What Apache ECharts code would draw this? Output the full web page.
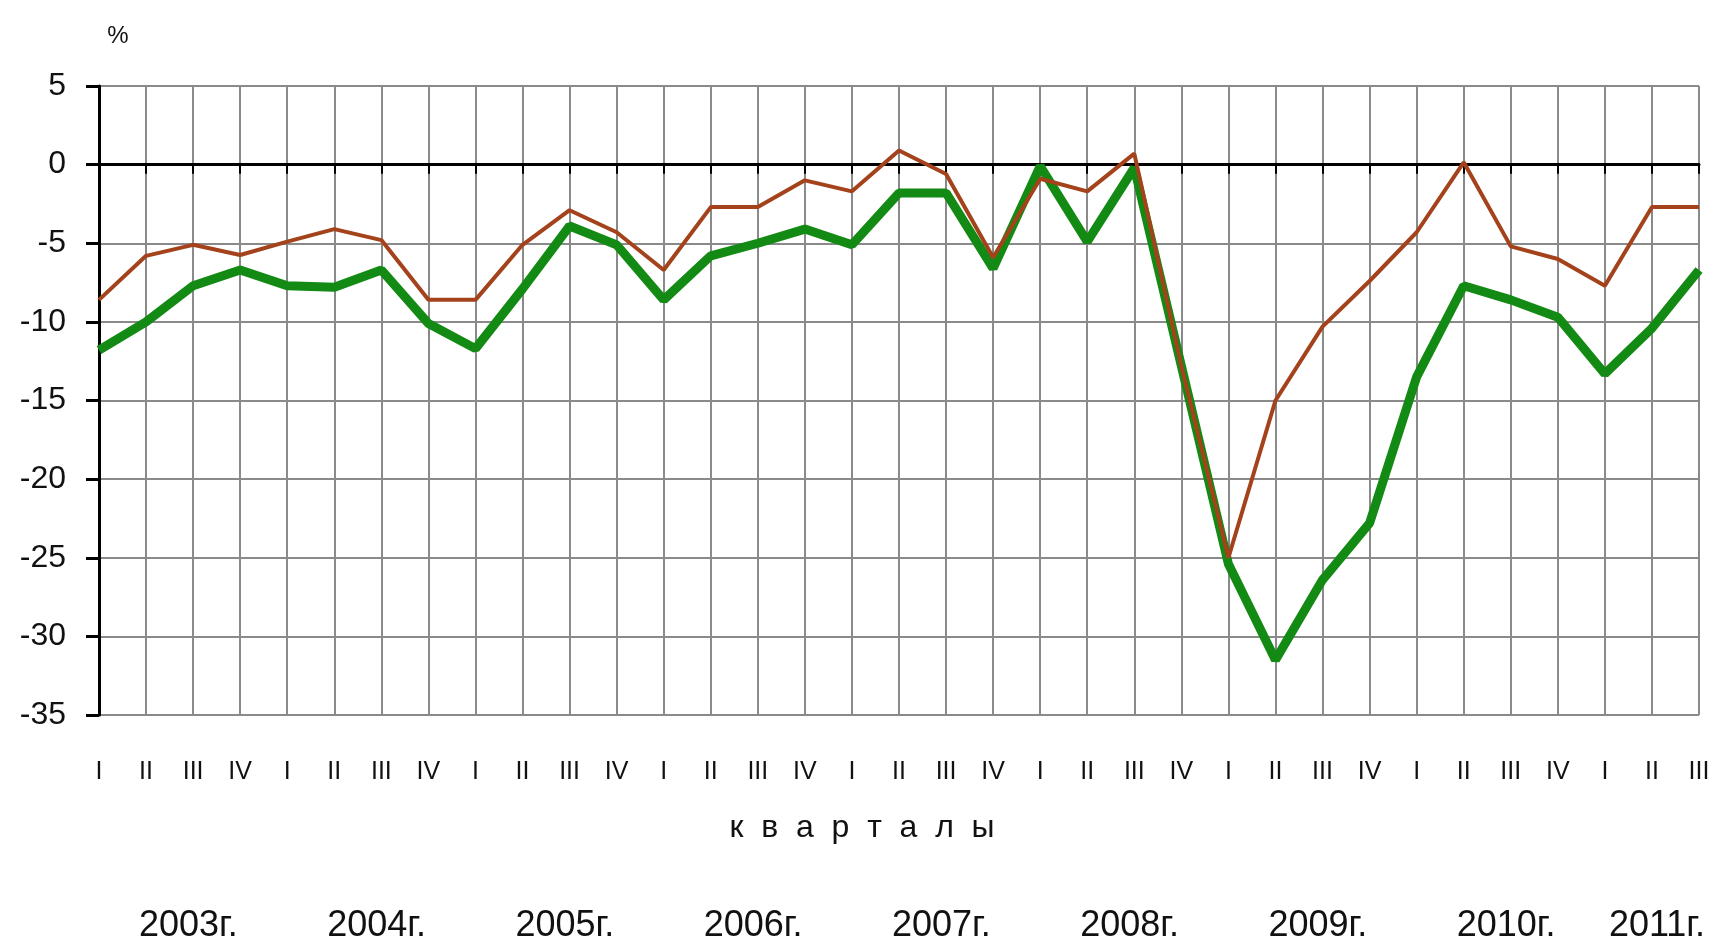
<!DOCTYPE html>
<html>
<head>
<meta charset="utf-8">
<script src="https://cdn.jsdelivr.net/npm/echarts@6/dist/echarts.min.js"></script>
<style>
  html, body { margin: 0; padding: 0; background: #fff; }
  #chart { width: 1719px; height: 951px; }
</style>
</head>
<body>
<div id="chart"></div>
<script>
// quarters 2003 I .. 2011 III
const quarters = [
  "I", "II", "III", "IV", "I", "II", "III", "IV", "I", "II", "III", "IV",
  "I", "II", "III", "IV", "I", "II", "III", "IV", "I", "II", "III", "IV",
  "I", "II", "III", "IV", "I", "II", "III", "IV", "I", "II", "III"
];
const years = ["2003г.", "2004г.", "2005г.", "2006г.", "2007г.", "2008г.", "2009г.", "2010г.", "2011г."];
const quartersPerYear = [4, 4, 4, 4, 4, 4, 4, 4, 3];

const greenValues = [
  -11.8, -10.0, -7.7, -6.7, -7.7, -7.8, -6.7, -10.1,
  -11.7, -7.9, -3.9, -5.1, -8.6, -5.8, -5.0, -4.1,
  -5.1, -1.8, -1.8, -6.6, -0.1, -4.9, -0.2, -12.8,
  -25.4, -31.5, -26.4, -22.8, -13.5, -7.7, -8.6, -9.7,
  -13.3, -10.4, -6.7
];
const brownValues = [
  -8.6, -5.8, -5.1, -5.75, -4.9, -4.1, -4.8, -8.6,
  -8.6, -5.1, -2.9, -4.3, -6.7, -2.7, -2.7, -1.0,
  -1.7, 0.9, -0.6, -5.9, -0.9, -1.7, 0.7, -12.8,
  -25.0, -15.0, -10.3, -7.4, -4.3, 0.15, -5.2, -6.0,
  -7.7, -2.7, -2.7
];

const FONT = "'Liberation Sans', Arial, sans-serif";

const chart = echarts.init(document.getElementById("chart"));

const options = {
  backgroundColor: "#fff",
  animation: false,
  grid: { left: 99, right: 20, top: 86, bottom: 236 },
  xAxis: [
    {
      // zero line with its ticks
      type: "category",
      data: quarters,
      boundaryGap: false,
      axisLine: { onZero: true, lineStyle: { color: "#000", width: 3 } },
      axisTick: { show: true, interval: 0, length: 9, lineStyle: { color: "#000", width: 2 } },
      axisLabel: { show: false },
      splitLine: { show: true, interval: 0, lineStyle: { color: "#8a8a8a", width: 2 } },
    },
    {
      // quarter labels at the bottom
      type: "category",
      data: quarters,
      boundaryGap: false,
      position: "bottom",
      axisLine: { show: false, onZero: false },
      axisTick: { show: false },
      splitLine: { show: false },
      axisLabel: {
        interval: 0,
        margin: 45,
        fontSize: 25,
        fontFamily: FONT,
        color: "#111",
      },
    },
  ],
  yAxis: {
    type: "value",
    min: -35,
    max: 5,
    interval: 5,
    axisLine: { show: true, onZero: false, lineStyle: { color: "#000", width: 3 } },
    axisTick: { show: true, length: 13, lineStyle: { color: "#000", width: 3 } },
    axisLabel: { margin: 33, fontSize: 32, fontFamily: FONT, color: "#111" },
    splitLine: { show: true, lineStyle: { color: "#8a8a8a", width: 2 } },
  },
  series: [
    {
      name: "green",
      type: "line",
      data: greenValues,
      symbol: "none",
      lineStyle: { color: "#138a13", width: 9 },
      z: 3,
    },
    {
      name: "brown",
      type: "line",
      data: brownValues,
      symbol: "none",
      lineStyle: { color: "#a3421b", width: 4 },
      z: 4,
    },
  ],
};

chart.setOption(options);

// year captions under the quarters, plus "%" and axis caption
const step = chart.convertToPixel({ xAxisIndex: 0 }, 1) - chart.convertToPixel({ xAxisIndex: 0 }, 0);
let start = 0;
const yearTexts = years.map((label, k) => {
  const a = chart.convertToPixel({ xAxisIndex: 0 }, start);
  const b = chart.convertToPixel({ xAxisIndex: 0 }, start + quartersPerYear[k] - 1);
  start += quartersPerYear[k];
  const x = Math.min((a + b) / 2 + step * 0.4, chart.getWidth() - 62);
  return {
    type: "text",
    x: x,
    y: 926,
    style: {
      text: label,
      fontSize: 36,
      fontFamily: FONT,
      fill: "#111",
      align: "center",
      verticalAlign: "middle",
      textAlign: "center",
      textVerticalAlign: "middle",
    },
  };
});

chart.setOption({
  graphic: [
    ...yearTexts,
    {
      type: "text",
      x: 118,
      y: 36,
      style: {
        text: "%",
        fontSize: 24,
        fontFamily: FONT,
        fill: "#111",
        align: "center",
        verticalAlign: "middle",
        textAlign: "center",
        textVerticalAlign: "middle",
      },
    },
    {
      type: "text",
      x: 862,
      y: 828,
      style: {
        text: "к  в  а  р  т  а  л  ы",
        fontSize: 32,
        fontFamily: FONT,
        fill: "#111",
        align: "center",
        verticalAlign: "middle",
        textAlign: "center",
        textVerticalAlign: "middle",
      },
    },
  ],
});

window.addEventListener("resize", () => chart.resize());
</script>
</body>
</html>
